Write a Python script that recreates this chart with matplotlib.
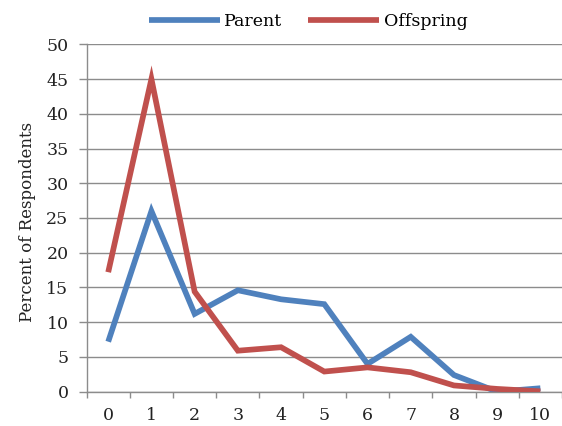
import matplotlib
matplotlib.use("Agg")
import matplotlib.pyplot as plt
from matplotlib.ticker import FixedLocator

# Survey data: percent of respondents per category
categories = [0, 1, 2, 3, 4, 5, 6, 7, 8, 9, 10]
parent = [7.2, 26.0, 11.2, 14.6, 13.3, 12.6, 4.0, 7.9, 2.4, 0.0, 0.5]
offspring = [17.2, 45.0, 14.4, 5.9, 6.4, 2.9, 3.5, 2.8, 0.9, 0.4, 0.05]
y_ticks = [0, 5, 10, 15, 20, 25, 30, 35, 40, 45, 50]

BLUE = "#4F81BD"
RED = "#C0504D"
GRID = "#8C8C8C"
TEXT = "#222222"

plt.rcParams["font.family"] = ["DejaVu Serif"]

W, H = 562, 426
left_px, top_px, bottom_px = 86.6, 44.3, 391.7
fig = plt.figure(figsize=(W / 100, H / 100), dpi=100)
ax = fig.add_axes([left_px / W, 1 - bottom_px / H, 1 - left_px / W,
                   (bottom_px - top_px) / H])

ax.plot(categories, parent, color=BLUE, lw=4.1, solid_joinstyle="miter",
        solid_capstyle="butt", label="Parent", zorder=3)
ax.plot(categories, offspring, color=RED, lw=4.1, solid_joinstyle="miter",
        solid_capstyle="butt", label="Offspring", zorder=3)

ax.set_xlim(-0.5, len(categories) - 0.5)
ax.set_ylim(0, 50)
ax.set_yticks(y_ticks)
ax.set_xticks(categories)
ax.set_xticklabels([str(c) for c in categories])
ax.xaxis.set_minor_locator(FixedLocator([i - 0.5 for i in range(len(categories) + 1)]))

ax.tick_params(axis="x", which="major", length=0, pad=11, labelsize=12.5, colors=TEXT)
ax.tick_params(axis="x", which="minor", length=4, width=1, color=GRID, direction="out")
ax.tick_params(axis="y", length=6, width=1, color=GRID, pad=7, labelsize=12.5,
               labelcolor=TEXT)

ax.yaxis.grid(True, color=GRID, lw=1)
ax.set_axisbelow(True)
for side in ("top", "right"):
    ax.spines[side].set_visible(False)
for side in ("left", "bottom"):
    ax.spines[side].set_color(GRID)
    ax.spines[side].set_linewidth(1)

ax.set_ylabel("Percent of Respondents", fontsize=12, color=TEXT)
ax.yaxis.set_label_coords((36 - left_px) / (W - left_px), 0.49)

fig.legend(loc="center", bbox_to_anchor=(308 / W, 1 - 22 / H), ncol=2, frameon=False,
           fontsize=12.5, handlelength=4.1, handletextpad=0.25, columnspacing=1.5)

fig.savefig("out.png", dpi=100)
